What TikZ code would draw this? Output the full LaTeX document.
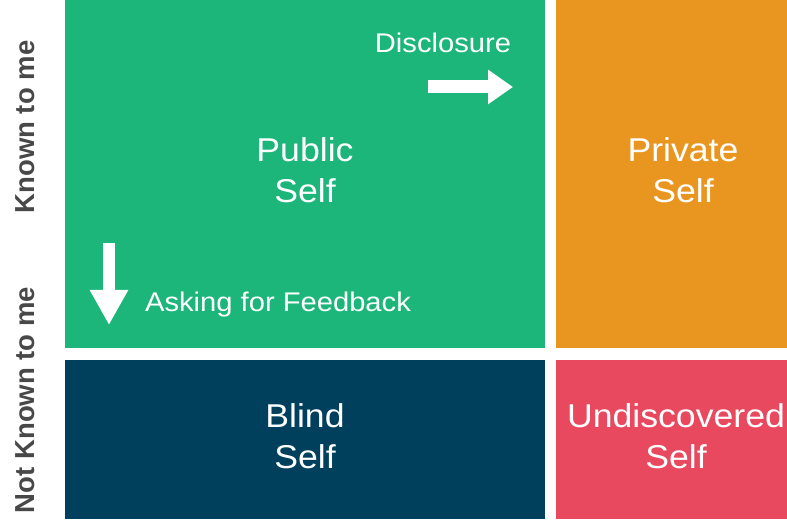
\documentclass[tikz,border=0pt]{standalone}
\usepackage{fontspec}
\setmainfont{Liberation Sans}[FakeStretch=1.08]
\newfontfamily\sidefont{Liberation Sans}
\usepackage{tikz}
\usetikzlibrary{arrows.meta}
\definecolor{publicgreen}{RGB}{28,181,122}
\definecolor{privateorange}{RGB}{233,150,32}
\definecolor{blindnavy}{RGB}{0,64,92}
\definecolor{hiddenred}{RGB}{232,73,94}
\definecolor{sidegray}{RGB}{72,72,72}
\tikzstyle{pane}=[rectangle, inner sep=0pt, text=white, align=center, text depth=7pt, font=\fontsize{33}{41}\selectfont]
\tikzstyle{side}=[rotate=90, text=sidegray, font=\sidefont\bfseries\fontsize{27.5}{30}\selectfont]
\tikzstyle{hint}=[text=white, anchor=base, font=\fontsize{27}{30}\selectfont]
\tikzstyle{arrow}=[draw=white, line width=13pt, -{Triangle[width=33pt,length=25pt]}]

\begin{document}
\begin{tikzpicture}[x=1pt, y=-1pt]
		   \useasboundingbox (0,0) rectangle (787,521);
		   \clip (0,0) rectangle (787,521);
		   \begin{scope}
			   \node (public) at (305,174)[pane, fill=publicgreen, minimum width=480, minimum height=348] {Public\\Self};
			   \node (private) at (683,174)[pane, fill=privateorange, minimum width=254, minimum height=348] {Private\\Self};
			   \node (blind) at (305,439.5)[pane, fill=blindnavy, minimum width=480, minimum height=159] {Blind\\Self};
			   \node (hidden) at (676,439.5)[pane, fill=hiddenred, minimum width=240, minimum height=159] {Undiscovered\\Self};

			   \node (known) at (25,127)[side] {Known to me};
			   \node (unknown) at (25,400)[side] {Not Known to me};

			   \node (disclosure) at (443,53)[hint] {Disclosure};
			   \node (feedback) at (278,312)[hint] {Asking for Feedback};
		   \end{scope}
		   \begin{scope}
			   \coordinate (discfrom) at (428,87);
			   \coordinate (discto) at (513,87);
			   \coordinate (askfrom) at (109,243);
			   \coordinate (askto) at (109,325);
			   \draw [arrow] (discfrom) -- (discto);
			   \draw [arrow, line width=12pt, -{Triangle[width=36pt,length=35pt]}] (askfrom) -- (askto);
		   \end{scope}
	   \end{tikzpicture}
\end{document}
